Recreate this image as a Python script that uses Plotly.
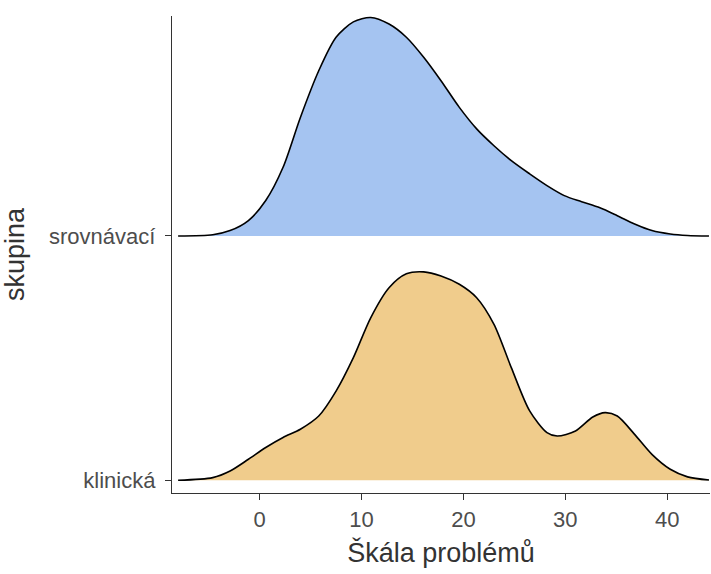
import plotly.graph_objects as go

# Categories (bottom to top)
groups = ["klinická", "srovnávací"]

# Density ridge for "srovnávací" (x positions on the scale, ridge heights in category units)
srov_x = [-8.0, -4.6, -2.9, -1.1, 0.6, 2.3, 4.0, 5.8, 7.5, 9.2, 10.9, 12.7, 14.4, 16.1,
          17.8, 19.6, 21.3, 23.0, 24.7, 26.5, 28.2, 29.9, 31.6, 33.4, 35.1, 36.8, 38.5,
          40.3, 42.0, 44.1]
srov_h = [0.0, 0.005, 0.022, 0.063, 0.145, 0.281, 0.485, 0.676, 0.813, 0.876, 0.894, 0.867,
          0.813, 0.731, 0.635, 0.526, 0.438, 0.369, 0.308, 0.254, 0.206, 0.165, 0.140, 0.115,
          0.083, 0.049, 0.022, 0.008, 0.002, 0.0]

# Density ridge for "klinická"
klin_x = [-8.0, -4.6, -2.9, -1.1, 0.6, 2.3, 4.0, 5.8, 7.5, 9.2, 10.9, 12.7, 14.4, 16.1,
          17.8, 19.6, 21.3, 23.0, 24.7, 26.5, 28.2, 29.2, 31.0, 32.7, 33.9, 35.1, 36.8,
          38.5, 40.3, 42.0, 44.1]
klin_h = [0.0, 0.011, 0.038, 0.086, 0.134, 0.175, 0.209, 0.263, 0.365, 0.502, 0.665, 0.788,
          0.845, 0.853, 0.836, 0.802, 0.747, 0.638, 0.461, 0.284, 0.195, 0.181, 0.202, 0.259,
          0.277, 0.263, 0.188, 0.106, 0.045, 0.014, 0.001]

x_ticks = [0, 10, 20, 30, 40]

fills = {"srovnávací": "#A5C4F1", "klinická": "#F0CC8C"}
series = {"srovnávací": (srov_x, srov_h), "klinická": (klin_x, klin_h)}

fig = go.Figure()
# draw top group first, lower group afterwards (ggridges order)
for g in ["srovnávací", "klinická"]:
    off = groups.index(g)
    xs, hs = series[g]
    fig.add_trace(go.Scatter(x=xs, y=[off] * len(xs), mode="lines",
                             line=dict(width=0, color="rgba(0,0,0,0)"),
                             hoverinfo="skip", showlegend=False))
    fig.add_trace(go.Scatter(x=xs, y=[off + h for h in hs], mode="lines",
                             line=dict(color="black", width=1.6, shape="spline", smoothing=0.8),
                             fill="tonexty", fillcolor=fills[g], name=g, showlegend=False))

font_family = "Liberation Sans, Arial, sans-serif"
fig.update_layout(
    width=711, height=574,
    margin=dict(l=172, r=1, t=16, b=81),
    paper_bgcolor="white", plot_bgcolor="white",
    font=dict(family=font_family, color="#4D4D4D"),
    showlegend=False,
)
fig.update_xaxes(
    range=[-8.6, 44.2], tickvals=x_ticks, ticktext=[str(t) for t in x_ticks],
    showgrid=False, zeroline=False, showline=True, linecolor="#333333", linewidth=1.4,
    ticks="outside", ticklen=6, tickwidth=1.4, tickcolor="#333333",
    tickfont=dict(size=22, color="#4D4D4D"),
    title=dict(text="Škála problémů", font=dict(size=27, color="#333333"), standoff=12),
)
fig.update_yaxes(
    range=[-0.052, 1.9], tickvals=[0, 1], ticktext=groups,
    showgrid=False, zeroline=False, showline=True, linecolor="#333333", linewidth=1.4,
    ticks="outside", ticklen=6, tickwidth=1.4, tickcolor="#333333",
    ticklabelstandoff=5,
    tickfont=dict(size=22, color="#4D4D4D"),
    title=dict(text="skupina", font=dict(size=27, color="#333333"), standoff=18),
)

fig.write_html("out.html")
